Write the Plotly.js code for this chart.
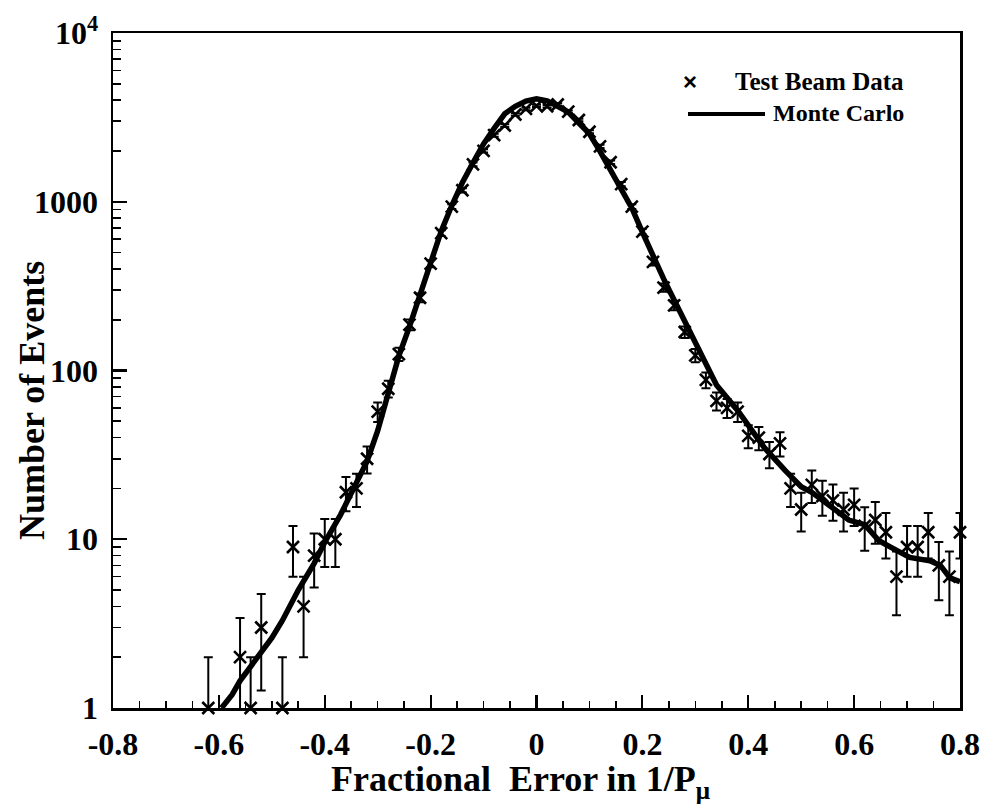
<!DOCTYPE html>
<html>
<head>
<meta charset="utf-8">
<script src="https://cdn.plot.ly/plotly-3.0.1.min.js"></script>
<style>html,body{margin:0;padding:0;background:#fff;}#chart{width:986px;height:811px;}</style>
</head>
<body>
<div id="chart"></div>
<script>
// Test beam data (bin centres and counts)
var dataX = [-0.62,-0.56,-0.54,-0.52,-0.48,-0.46,-0.44,-0.42,-0.40,-0.38,-0.36,-0.34,-0.32,-0.30,-0.28,-0.26,-0.24,-0.22,-0.20,-0.18,-0.16,-0.14,-0.12,-0.10,-0.08,-0.06,-0.04,-0.02,0.00,0.02,0.04,0.06,0.08,0.10,0.12,0.14,0.16,0.18,0.20,0.22,0.24,0.26,0.28,0.30,0.32,0.34,0.36,0.38,0.40,0.42,0.44,0.46,0.48,0.50,0.52,0.54,0.56,0.58,0.60,0.62,0.64,0.66,0.68,0.70,0.72,0.74,0.76,0.78,0.80];
var dataY = [1,2,1,3,1,9,4,8,10,10,19,20,30,57,78,125,187,270,430,652,935,1170,1665,2004,2480,2830,3290,3550,3700,3680,3770,3420,3050,2600,2130,1715,1273,935,665,440,310,243,169,123,88,66,60,57,41,40,32,37,20,15,21,18,17,15,16,12,13,11,6,9,9,11,7,6,11];

// Monte Carlo prediction
var mcX = [-0.595,-0.575,-0.56,-0.53,-0.50,-0.48,-0.45,-0.42,-0.40,-0.37,-0.35,-0.32,-0.30,-0.28,-0.26,-0.24,-0.22,-0.20,-0.18,-0.16,-0.14,-0.12,-0.10,-0.08,-0.06,-0.04,-0.02,0.00,0.02,0.04,0.06,0.08,0.10,0.12,0.14,0.16,0.18,0.20,0.22,0.24,0.26,0.28,0.30,0.32,0.34,0.38,0.43,0.47,0.50,0.52,0.55,0.59,0.62,0.647,0.668,0.705,0.743,0.763,0.781,0.80];
var mcY = [1.0,1.2,1.45,1.97,2.6,3.3,5.0,7.2,9.6,14,19,29,44,73,122,182,280,430,670,950,1300,1700,2200,2720,3320,3680,3950,4080,3960,3680,3400,2930,2530,1990,1540,1190,920,660,470,350,262,195,145,108,82,58,35,25.5,20.5,19,16,13,12.2,9.8,9.0,7.8,7.45,7.0,5.9,5.6];

var yTickVals = [1,10,100,1000,10000];
var yTickText = ['1','10','100','1000','10<sup>4</sup>'];
var xTickVals = [-0.8,-0.6,-0.4,-0.2,0,0.2,0.4,0.6,0.8];
var xTickText = ['-0.8','-0.6','-0.4','-0.2','0','0.2','0.4','0.6','0.8'];

var legendNames = ['Test Beam Data', 'Monte Carlo'];
var xTitle = 'Fractional  Error in 1/P<sub>μ</sub>';
var yTitle = 'Number of Events';

var dataErr = dataY.map(function(v){ return Math.sqrt(v); });

// minor tick positions
var xMinor = [];
for (var i = -16; i <= 16; i++) { if (i % 4 !== 0) xMinor.push(i * 0.05); }
var yMinor = [];
for (var d = 0; d < 4; d++) { for (var m = 2; m <= 9; m++) yMinor.push(m * Math.pow(10, d)); }

var FONT = 'Liberation Serif, Times New Roman, serif';

var traces = [
  {
    x: mcX, y: mcY, type: 'scatter', mode: 'lines',
    name: legendNames[1],
    line: {color: '#000', width: 5.5, shape: 'linear'},
    showlegend: false
  },
  // error bars (on the overlay axes, which share the same ranges and carry the minor ticks)
  {
    x: dataX, y: dataY, xaxis: 'x2', yaxis: 'y2', type: 'scatter', mode: 'markers',
    name: 'errors', showlegend: false, hoverinfo: 'skip',
    marker: {opacity: 0, size: 1},
    error_y: {type: 'data', array: dataErr, visible: true, color: '#000', thickness: 2, width: 4.5},
    cliponaxis: true
  },
  {
    x: dataX, y: dataY, type: 'scatter', mode: 'markers',
    name: legendNames[0], showlegend: false,
    marker: {symbol: 'x-thin-open', size: 12, color: '#000', line: {color: '#000', width: 2.6}},
    cliponaxis: false
  }
];

function px2x(p) { return (p - 113) / 847; }
function px2y(p) { return (708 - p) / 675; }

var layout = {
  width: 986, height: 811,
  margin: {l: 113, r: 26, t: 33, b: 103},
  paper_bgcolor: '#fff', plot_bgcolor: '#fff',
  font: {family: FONT, color: '#000', size: 24, weight: 700},
  showlegend: false,
  xaxis: {
    range: [-0.8, 0.8], tickmode: 'array', tickvals: xTickVals, ticktext: xTickText,
    ticks: 'inside', ticklen: 13, tickwidth: 2.2, tickcolor: '#000', ticklabelstandoff: 6,
    showline: true, linecolor: '#000', linewidth: 2.5, mirror: true,
    showgrid: false, zeroline: false,
    tickfont: {family: FONT, size: 32, color: '#000', weight: 700}
  },
  yaxis: {
    type: 'log', range: [0, 4], tickmode: 'array', tickvals: yTickVals, ticktext: yTickText,
    ticks: 'inside', ticklen: 14, tickwidth: 2.2, tickcolor: '#000', ticklabelstandoff: 6,
    showline: true, linecolor: '#000', linewidth: 2.5, mirror: true,
    showgrid: false, zeroline: false,
    tickfont: {family: FONT, size: 32, color: '#000', weight: 700}
  },
  xaxis2: {
    overlaying: 'x', anchor: 'y', side: 'bottom', range: [-0.8, 0.8],
    tickmode: 'array', tickvals: xMinor, ticks: 'inside', ticklen: 7, tickwidth: 1.6, tickcolor: '#000',
    showticklabels: false, showline: false, showgrid: false, zeroline: false
  },
  yaxis2: {
    overlaying: 'y', anchor: 'x', side: 'left', type: 'log', range: [0, 4],
    tickmode: 'array', tickvals: yMinor, ticks: 'inside', ticklen: 8, tickwidth: 1.6, tickcolor: '#000',
    showticklabels: false, showline: false, showgrid: false, zeroline: false
  },
  annotations: [
    {xref: 'paper', yref: 'paper', x: px2x(520), y: px2y(781), text: xTitle,
     showarrow: false, xanchor: 'center', yanchor: 'middle',
     font: {family: FONT, size: 36, color: '#000', weight: 700}},
    {xref: 'paper', yref: 'paper', x: px2x(32), y: px2y(401), text: yTitle, textangle: -90,
     showarrow: false, xanchor: 'center', yanchor: 'middle',
     font: {family: FONT, size: 36, color: '#000', weight: 700}},
    {xref: 'paper', yref: 'paper', x: px2x(906), y: px2y(82), text: legendNames[0],
     showarrow: false, xanchor: 'right', yanchor: 'middle',
     font: {family: FONT, size: 25, color: '#000', weight: 700}},
    {xref: 'paper', yref: 'paper', x: px2x(906), y: px2y(113), text: legendNames[1],
     showarrow: false, xanchor: 'right', yanchor: 'middle',
     font: {family: FONT, size: 24, color: '#000', weight: 700}},
    {xref: 'paper', yref: 'paper', x: px2x(690), y: px2y(82), text: '×',
     showarrow: false, xanchor: 'center', yanchor: 'middle',
     font: {family: 'Liberation Sans, Arial, sans-serif', size: 24, color: '#000', weight: 700}}
  ],
  shapes: [
    {type: 'line', xref: 'paper', yref: 'paper', x0: px2x(688), x1: px2x(765), y0: px2y(114), y1: px2y(114),
     line: {color: '#000', width: 4}}
  ]
};

Plotly.newPlot('chart', traces, layout, {displayModeBar: false, staticPlot: true});
</script>
</body>
</html>
